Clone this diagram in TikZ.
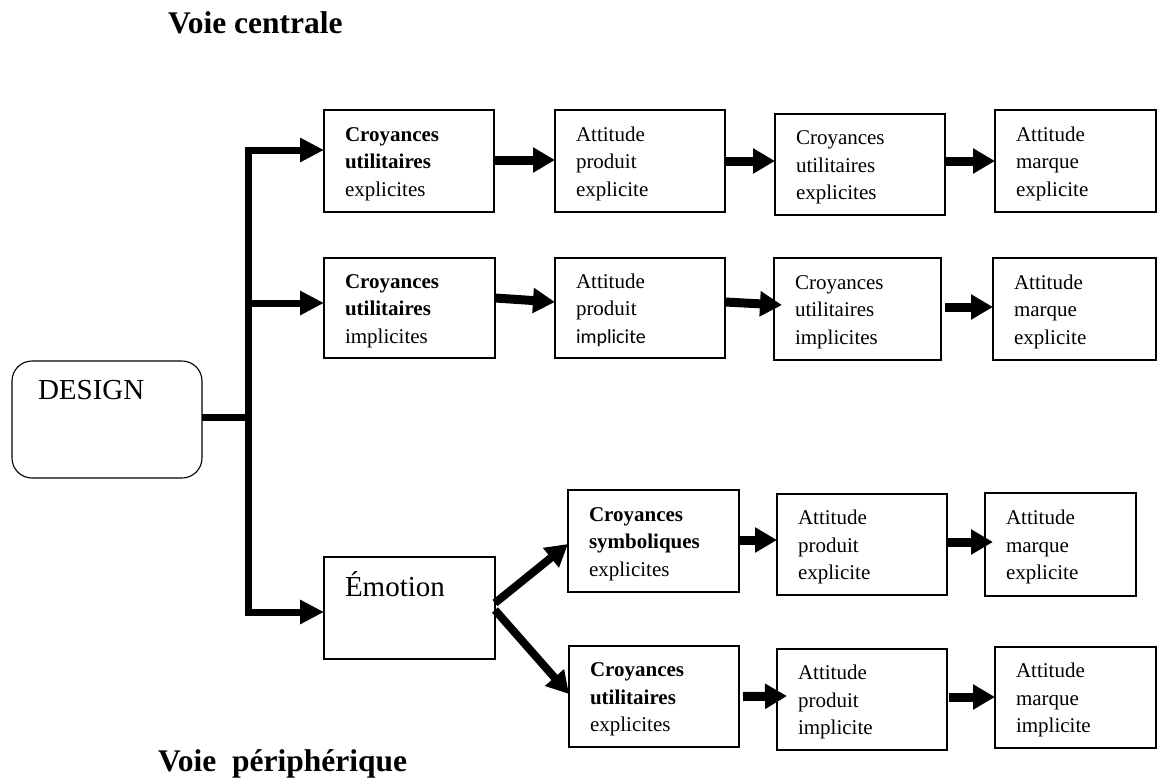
\documentclass[tikz,border=0pt]{standalone}
\usepackage{fontspec}
\setmainfont{Liberation Serif}
\newfontfamily\sansbody{Carlito}
\usetikzlibrary{arrows.meta}

\tikzset{
  x=1pt, y=-1pt,
  every node/.style={inner sep=0pt, outer sep=0pt},
  frame/.style={draw, line width=1.1pt, anchor=north west, align=left},
  stage/.style={frame, inner xsep=21pt, inner ysep=0pt,
    font=\fontsize{21}{27.5}\selectfont},
  bus/.style={line width=7pt, line join=miter, line cap=butt,
    -{Triangle[length=24pt,width=23pt]}},
  link/.style={line width=9pt, line cap=butt,
    -{Triangle[length=22pt,width=24pt]}},
  heading/.style={anchor=base west, font=\fontsize{31.5}{36}\selectfont\bfseries},
}

% #1 name, #2/#3 top-left corner, #4 width, #5 height, #6-#8 the three lines
\newcommand\stagebox[8]{%
  \pgfmathsetmacro\stagetw{#4-42}%
  \node[stage, minimum width=#4pt, minimum height=#5pt, text width=\stagetw pt]
    (#1) at (#2,#3)
    {\rule{0pt}{23pt}#6\\#7\\#8\rule[-8pt]{0pt}{8pt}};%
}

\begin{document}
\begin{tikzpicture}
\fill[white] (0,0) rectangle (1157,777);
\useasboundingbox (0,0) rectangle (1157,777);

% headings
\node[heading] (central) at (168,33) {Voie centrale};
\node[heading] (periph) at (158,771) {Voie~~périphérique};

% source boxes
\node[frame, rounded corners=20pt, minimum width=190pt, minimum height=117pt,
  inner xsep=26pt, inner ysep=0pt, text width=138pt, text height=38pt, text depth=79pt,
  font=\fontsize{29}{34}\selectfont] (design) at (12,361) {DESIGN};
\node[frame, minimum width=171pt, minimum height=102pt,
  inner xsep=21pt, inner ysep=0pt, text width=129pt, text height=39pt, text depth=63pt,
  font=\fontsize{29}{34}\selectfont] (emo) at (324,557) {Émotion};

% first row
\stagebox{b11}{324}{110}{170}{102}{\textbf{Croyances}}{\textbf{utilitaires}}{explicites}
\stagebox{b12}{555}{110}{170}{102}{Attitude}{produit}{explicite}
\stagebox{b13}{775}{114}{170}{101}{Croyances}{utilitaires}{explicites}
\stagebox{b14}{995}{110}{161}{102}{Attitude}{marque}{explicite}

% second row
\stagebox{b21}{324}{258}{171}{100}{\textbf{Croyances}}{\textbf{utilitaires}}{implicites}
\stagebox{b22}{555}{258}{170}{100}{Attitude}{produit}{{\sansbody\fontsize{20}{27.5}\selectfont implicite}}
\stagebox{b23}{774}{258}{167}{102}{Croyances}{utilitaires}{implicites}
\stagebox{b24}{993}{258}{163}{102}{Attitude}{marque}{explicite}

% third row
\stagebox{b31}{568}{490}{171}{102}{\textbf{Croyances}}{\textbf{symboliques}}{explicites}
\stagebox{b32}{777}{494}{170}{101}{Attitude}{produit}{explicite}
\stagebox{b33}{985}{493}{151}{103}{Attitude}{marque}{explicite}

% fourth row
\stagebox{b41}{569}{646}{170}{101}{\textbf{Croyances}}{\textbf{utilitaires}}{explicites}
\stagebox{b42}{777}{649}{170}{101}{Attitude}{produit}{implicite}
\stagebox{b43}{995}{647}{161}{101}{Attitude}{marque}{implicite}

% trunk leaving DESIGN
\coordinate (j) at (248,417);
\coordinate (top) at (248,150);
\coordinate (mid) at (248,303);
\coordinate (low) at (248,612);
\draw[line width=7pt, line cap=butt] (design.east |- j) -- (j);
\draw[bus] (j) -- (top) -- (top -| b11.west);
\draw[bus] (mid) -- (mid -| b21.west);
\draw[bus] (j) -- (low) -- (low -| emo.west);

% first row links
\draw[link] ([yshift=1pt]b11.east) -- ([yshift=1pt]b12.west);
\draw[link] (b12.east) -- ([yshift=3.5pt]b13.west);
\draw[link] ([yshift=3.5pt]b13.east) -- (b14.west);

% second row links
\draw[link] ([yshift=10pt]b21.east) -- ([yshift=6pt]b22.west);
\draw[link] ([yshift=6pt]b22.east) -- ([xshift=8pt,yshift=4pt]b23.west);
\draw[link] ([xshift=4pt,yshift=2pt]b23.east) -- ([yshift=2pt]b24.west);

% branches out of Émotion
\draw[link, line width=8pt] ([yshift=5pt]emo.east) -- ([yshift=-3pt]b31.west);
\draw[link, line width=8pt] ([yshift=-2pt]emo.east) -- ([yshift=2.5pt]b41.west);

% third row links
\draw[link] ([yshift=1pt]b31.east) -- ([yshift=4.5pt]b32.west);
\draw[link] ([yshift=2.5pt]b32.east) -- ([xshift=8pt,yshift=2.5pt]b33.west);

% fourth row links
\draw[link] ([xshift=4pt]b41.east) -- ([xshift=10pt,yshift=3.5pt]b42.west);
\draw[link] ([xshift=2pt,yshift=2.5pt]b42.east) -- ([yshift=0.5pt]b43.west);
\end{tikzpicture}
\end{document}
